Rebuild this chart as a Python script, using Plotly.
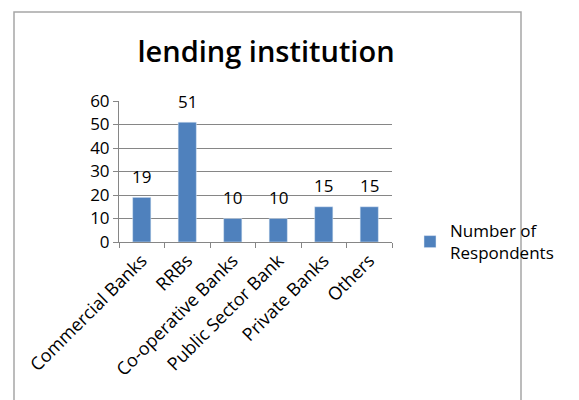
import plotly.graph_objects as go

categories = ["Commercial Banks", "RRBs", "Co-operative Banks", "Public Sector Bank", "Private Banks", "Others"]
respondents = [19, 51, 10, 10, 15, 15]
series_name = "Number of<br>Respondents"
title_text = "lending institution"

L, R, T, B = 119, 392, 101, 242
W, H = 579, 400
pw, ph = R - L, B - T

def px(x):
    return (x - L) / pw

def py(y):
    return (B - y) / ph

fig = go.Figure()
fig.add_trace(go.Bar(
    x=categories, y=respondents, name=series_name,
    marker=dict(color="#4F81BD"),
    showlegend=True,
))

for c, v in zip(categories, respondents):
    fig.add_annotation(x=c, y=v, text=str(v), showarrow=False, yanchor="middle", yshift=21,
                       font=dict(size=17, color="#000000", family="Open Sans"))

fig.update_layout(
    width=W, height=H,
    margin=dict(l=L, r=W - R, t=T, b=H - B),
    paper_bgcolor="white", plot_bgcolor="white",
    bargap=0.6,
    title=dict(text=title_text, x=(266) / W, xanchor="center", y=1 - 52 / H, yanchor="middle",
               font=dict(size=29, family="Open Sans", color="#000000", weight=600)),
    font=dict(family="Open Sans", color="#000000"),
    xaxis=dict(showline=True, linecolor="#868686", linewidth=1, ticks="outside", tickson="boundaries",
               ticklen=5, tickcolor="#868686", tickangle=-45, tickfont=dict(size=18), showgrid=False),
    yaxis=dict(range=[0, 60], dtick=10, showline=True, linecolor="#868686", linewidth=1,
               showgrid=True, gridcolor="#868686", gridwidth=1, ticks="outside", ticklen=5,
               tickcolor="#868686", tickfont=dict(size=17), zeroline=False),
    legend=dict(x=px(410), y=py(242), xanchor="left", yanchor="middle",
                font=dict(size=17), bgcolor="rgba(0,0,0,0)", itemwidth=30),
    showlegend=True,
    shapes=[dict(type="rect", xref="paper", yref="paper", x0=px(14), x1=px(521), y0=py(410), y1=py(12),
                 line=dict(color="#A6A6A6", width=1.5), layer="below")],
)

fig.write_html("out.html")
